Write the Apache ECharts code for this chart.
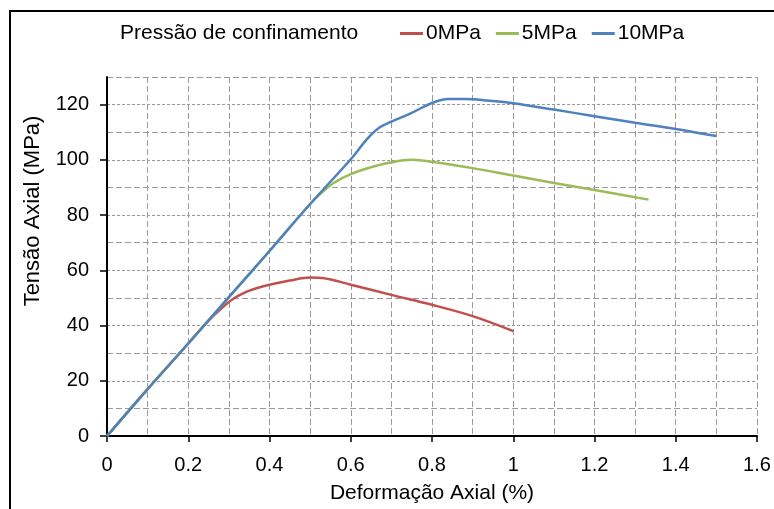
<!DOCTYPE html>
<html>
<head>
<meta charset="utf-8">
<script src="https://cdn.jsdelivr.net/npm/echarts@6/dist/echarts.min.js"></script>
<style>html,body{margin:0;padding:0;background:#fff}#c{width:774px;height:509px}</style>
</head>
<body>
<div id="c"></div>
<script>
var seriesNames = ['0MPa', '5MPa', '10MPa'];
var seriesColors = ['#C0504D', '#9BBB59', '#4F81BD'];
var xTicks = [0, 0.2, 0.4, 0.6, 0.8, 1, 1.2, 1.4, 1.6];
var yTicks = [0, 20, 40, 60, 80, 100, 120];

var data0 = [[0,0],[0.1,17],[0.2,33.5],[0.25,41.8],[0.28,46],[0.31,49.6],[0.34,52],[0.37,53.6],[0.4,54.8],[0.45,56.3],[0.5,57.4],[0.53,57.2],[0.6,54.8],[0.7,51.1],[0.8,47.5],[0.9,43.4],[1.0,38.0]];
var data5 = [[0,0],[0.1,17],[0.2,33.5],[0.3,50.3],[0.4,67],[0.5,84],[0.53,88.3],[0.56,91.8],[0.6,94.8],[0.65,97.3],[0.7,99.1],[0.75,100],[0.8,99.3],[0.9,97],[1.0,94.3],[1.1,91.6],[1.2,89.1],[1.333,85.6]];
var data10 = [[0,0],[0.1,17],[0.2,33.5],[0.3,50.3],[0.4,67],[0.5,84],[0.6,100.2],[0.64,107.5],[0.67,111.6],[0.7,113.8],[0.75,117.0],[0.8,120.6],[0.84,122.0],[0.88,122.0],[0.95,121.3],[1.0,120.5],[1.1,118.2],[1.2,115.8],[1.3,113.4],[1.4,111.2],[1.5,108.6]];
var allData = [data0, data5, data10];

var chart = echarts.init(document.getElementById('c'));
var font = 'Liberation Sans, Arial, sans-serif';
var gridColor = '#9a9a9a';

var series = seriesNames.map(function (n, i) {
  return {
    name: n, type: 'line', data: allData[i], symbol: 'none', smooth: 0.35,
    lineStyle: { color: seriesColors[i], width: 2.5 }, itemStyle: { color: seriesColors[i] },
    z: 3 + i
  };
});

chart.setOption({
  animation: false,
  backgroundColor: '#fff',
  textStyle: { fontFamily: font },
  grid: { left: 107, right: 17, top: 77, bottom: 70, containLabel: false },
  legend: {
    data: seriesNames, left: 400, top: 23, padding: 0, itemWidth: 23, itemHeight: 3, itemGap: 15,
    icon: 'rect',
    textStyle: { fontSize: 21, color: '#000', fontFamily: font, padding: [0, 0, 0, -2] }
  },
  graphic: [
    { type: 'rect', shape: { x: 10, y: 11, width: 800, height: 600 }, style: { fill: 'none', stroke: '#000', lineWidth: 2 }, silent: true, z: 100 },
    { type: 'text', x: 120, y: 33, style: { text: 'Pressão de confinamento', font: '21px ' + font, fill: '#000', verticalAlign: 'middle' } },
    { type: 'text', x: 33, y: 211, rotation: Math.PI / 2, style: { text: 'Tensão Axial (MPa)', font: '22px ' + font, fill: '#000', align: 'center', verticalAlign: 'middle' } }
  ],
  xAxis: {
    type: 'value', min: 0, max: 1.6, interval: 0.2,
    name: 'Deformação Axial (%)', nameLocation: 'middle', nameGap: 47,
    nameTextStyle: { fontSize: 21, color: '#000', fontFamily: font },
    axisLine: { show: true, onZero: false, lineStyle: { color: '#000', width: 2 } },
    axisTick: { show: true, length: 6, lineStyle: { color: '#000', width: 1.5 } },
    axisLabel: { fontSize: 20, color: '#000', margin: 19, formatter: function (v) { return String(Math.round(v * 10) / 10); } },
    splitLine: { show: true, lineStyle: { color: gridColor, type: [6, 3], width: 1 } },
    minorTick: { show: false, splitNumber: 2 },
    minorSplitLine: { show: true, lineStyle: { color: gridColor, type: [6, 3], width: 1 } }
  },
  yAxis: [
    {
      type: 'value', min: 0, max: 130, interval: 20,
      axisLine: { show: true, onZero: false, lineStyle: { color: '#000', width: 2 } },
      axisTick: { show: true, length: 7, lineStyle: { color: '#000', width: 1.5 } },
      axisLabel: { fontSize: 20, color: '#000', margin: 18, showMaxLabel: false,
        formatter: function (v) { return v > 120 ? '' : String(v); } },
      splitLine: { show: true, showMaxLine: false, lineStyle: { color: gridColor, type: [3, 2], width: 1 } }
    },
    {
      type: 'value', min: 0, max: 130, interval: 10, position: 'right',
      axisLine: { show: false }, axisTick: { show: false }, axisLabel: { show: false },
      splitLine: { show: true, lineStyle: { color: ['rgba(0,0,0,0)', gridColor], type: [6, 3], width: 1 } }
    }
  ],
  series: series
});
</script>
</body>
</html>
